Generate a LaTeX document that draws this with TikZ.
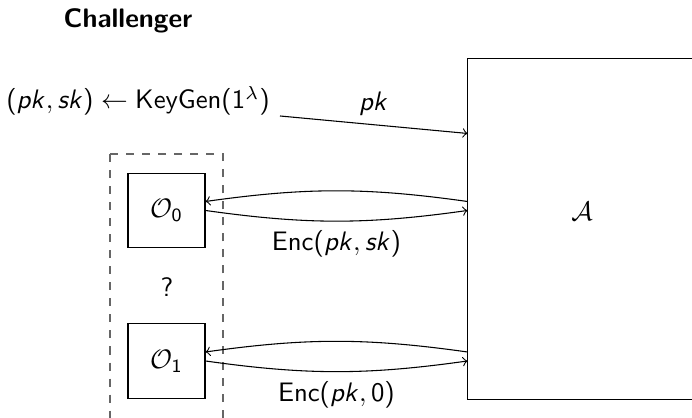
\documentclass[tikz,border=0pt]{standalone}
\usepackage{amsmath}
\usetikzlibrary{positioning, calc}

% sans digits, brackets and italic letters in math
\SetSymbolFont{operators}{normal}{OT1}{cmss}{m}{n}
\DeclareMathAlphabet{\mathsfit}{OT1}{cmss}{m}{sl}
\newcommand{\pkey}{\mathsfit{pk}}
\newcommand{\skey}{\mathsfit{sk}}

\begin{document}
\begin{tikzpicture}[
    x=0.374pt, y=0.374pt,
    every node/.style={font=\sffamily},
    oracle/.style={rectangle, draw, minimum width=28.8pt, minimum height=28pt},
    adversary/.style={rectangle, draw, minimum width=85.3pt, minimum height=127.2pt},
    group/.style={draw=black!60, dashed},
    arr/.style={->}
]
\useasboundingbox (0,0) rectangle (692,418);

\node[font=\sffamily\bfseries] (chal) at (128,397) {Challenger};
\node (keygen) at (138,317) {$(\pkey,\skey) \leftarrow \mathsf{KeyGen}(1^\lambda)$};

\node[adversary] (adv) at (582,189) {};
\node (advname) at (582,207) {$\mathcal{A}$};

\draw[group] (110,264) rectangle (223,-20);
\node[oracle] (O0) at (166.5,207.5) {$\mathcal{O}_0$};
\node (which) at (167,131) {?};
\node[oracle] (O1) at (166.5,57) {$\mathcal{O}_1$};

\coordinate (pkstart) at (280,302);
\draw[arr] (pkstart) -- node[above] {$\pkey$} ($(adv.north west)!0.22!(adv.south west)$);

\draw[arr] ($(O0.east -| adv.west)+(0,9)$) to[bend right=8] ($(O0.east)+(0,9)$);
\draw[arr] (O0.east) to[bend right=8] node[below] {$\mathsf{Enc}(\pkey,\skey)$} (O0.east -| adv.west);
\draw[arr] ($(O1.east -| adv.west)+(0,9)$) to[bend right=8] ($(O1.east)+(0,9)$);
\draw[arr] (O1.east) to[bend right=8] node[below] {$\mathsf{Enc}(\pkey,0)$} (O1.east -| adv.west);
\end{tikzpicture}
\end{document}
